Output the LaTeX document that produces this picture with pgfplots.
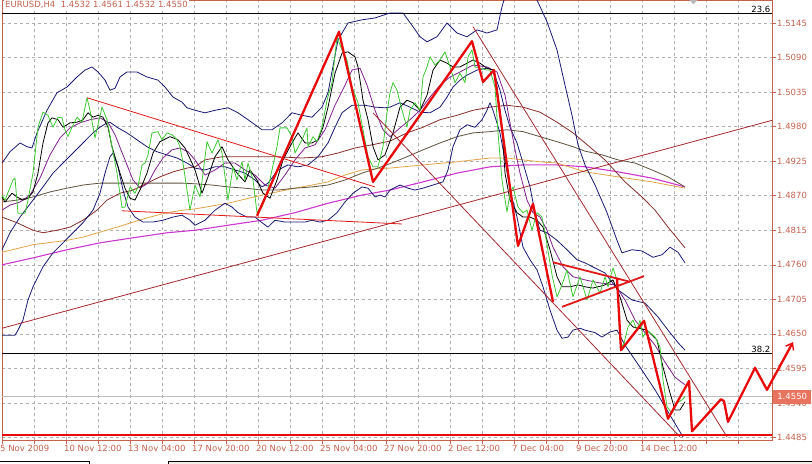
\documentclass[border=0pt]{standalone}
\usepackage{fontspec}
\setmainfont{DejaVu Sans}
\usepackage{pgfplots}
\pgfplotsset{compat=1.18}
\usetikzlibrary{arrows.meta}
\definecolor{axc}{RGB}{196,98,78}
\definecolor{boxc}{RGB}{232,115,95}
\definecolor{gridc}{RGB}{175,175,175}
\definecolor{bidc}{RGB}{190,190,190}
\definecolor{pgreen}{RGB}{60,200,50}
\definecolor{pviolet}{RGB}{128,30,140}
\definecolor{pnavy}{RGB}{25,25,115}
\definecolor{pmaroon}{RGB}{135,45,40}
\definecolor{polive}{RGB}{95,80,60}
\definecolor{porange}{RGB}{222,165,70}
\definecolor{pmagenta}{RGB}{205,55,205}
\definecolor{tred}{RGB}{225,25,25}
\definecolor{cred}{RGB}{165,40,45}
\definecolor{zred}{RGB}{232,10,10}
\newcommand{\lblfont}{\fontsize{8.5bp}{10bp}\selectfont}
\begin{document}
\begin{tikzpicture}[x=1bp,y=1bp]
\useasboundingbox (0,0) rectangle (812,464);
\fill[fill={rgb,255:red,240;green,237;blue,228}] (168,0) rectangle (812,3);
\begin{axis}[
 at={(2bp,24bp)}, anchor=south west, scale only axis,
 width=770bp, height=440bp,
 xmin=2, xmax=772, ymin=1.44811, ymax=1.51816,
 clip=false,
 axis line style={draw=axc, line width=0.8bp},
 xtick pos=bottom, ytick pos=right, yticklabel pos=right,
 tick align=outside, major tick length=4bp, minor tick length=4bp,
 tick style={draw=axc, line width=0.6bp},
 xtick={2,66,130,194,258,322,386,450,514,578,642,706},
 xticklabels={5 Nov 2009,10 Nov 12:00,13 Nov 04:00,17 Nov 20:00,20 Nov 12:00,25 Nov 04:00,27 Nov 20:00,2 Dec 12:00,7 Dec 04:00,9 Dec 20:00,14 Dec 12:00,{}},
 minor xtick={34,98,162,226,290,354,418,482,546,610,674,738},
 ytick={1.4485,1.4540,1.4595,1.4650,1.4705,1.4760,1.4815,1.4870,1.4925,1.4980,1.5035,1.5090,1.5145},
 yticklabels={1.4485,1.4540,1.4595,1.4650,1.4705,1.4760,1.4815,1.4870,1.4925,1.4980,1.5035,1.5090,1.5145},
 grid=both,
 major grid style={draw=gridc, dash pattern=on 3bp off 3bp, line width=0.6bp},
 minor grid style={draw=gridc, dash pattern=on 3bp off 3bp, line width=0.6bp},
 xticklabel style={font=\lblfont, text=axc, anchor=north west, inner sep=0pt, xshift=-2bp, yshift=-1bp},
 yticklabel style={font=\lblfont, text=axc, anchor=west, inner sep=0pt, xshift=1bp},
 scaled y ticks=false,
 every axis plot/.append style={no marks, line join=round, line width=0.8bp},
]
% bid line and fibo levels
\addplot[draw=bidc] coordinates {(2,1.4550)(772,1.4550)};
\addplot[black] coordinates {(2,1.5161)(772,1.5161)};
\addplot[black] coordinates {(2,1.4619)(772,1.4619)};
% magenta MA
\addplot[pmagenta, line width=1.1bp] coordinates {(2,1.4760)(33,1.4771)(67,1.4784)(100,1.4795)(133,1.4803)(167,1.4811)(195,1.4815)(228,1.4823)(262,1.4831)(295,1.4843)(328,1.4858)(362,1.4871)(390,1.4879)(423,1.4892)(457,1.4906)(490,1.4916)(523,1.4919)(557,1.4919)(585,1.4916)(618,1.4908)(652,1.4898)(685,1.4884)};
% orange MA
\addplot[porange] coordinates {(2,1.4780)(33,1.4792)(67,1.4799)(83,1.4804)(100,1.4812)(117,1.4820)(133,1.4828)(150,1.4836)(167,1.4843)(183,1.4847)(195,1.4849)(228,1.4858)(262,1.4871)(295,1.4882)(312,1.4887)(328,1.4892)(345,1.4903)(362,1.4911)(378,1.4913)(390,1.4914)(423,1.4919)(457,1.4924)(490,1.4930)(507,1.4930)(523,1.4927)(540,1.4924)(557,1.4922)(573,1.4914)(585,1.4908)(618,1.4900)(652,1.4892)(685,1.4882)};
% olive MA
\addplot[polive] coordinates {(2,1.4860)(17,1.4863)(33,1.4868)(50,1.4876)(67,1.4882)(83,1.4887)(100,1.4890)(117,1.4890)(133,1.4890)(150,1.4890)(167,1.4890)(183,1.4890)(195,1.4889)(212,1.4887)(228,1.4884)(245,1.4882)(262,1.4879)(278,1.4879)(295,1.4882)(312,1.4884)(328,1.4887)(345,1.4895)(362,1.4906)(378,1.4914)(390,1.4921)(407,1.4932)(423,1.4943)(440,1.4954)(457,1.4964)(473,1.4970)(490,1.4972)(507,1.4975)(523,1.4972)(540,1.4964)(557,1.4956)(573,1.4948)(585,1.4941)(602,1.4935)(618,1.4927)(635,1.4922)(652,1.4911)(668,1.4900)(685,1.4884)};
% maroon MA
\addplot[pmaroon] coordinates {(2,1.4836)(17,1.4827)(33,1.4815)(43,1.4811)(57,1.4815)(70,1.4820)(83,1.4831)(97,1.4847)(107,1.4863)(120,1.4874)(133,1.4879)(147,1.4890)(160,1.4900)(173,1.4908)(187,1.4914)(195,1.4916)(205,1.4927)(222,1.4932)(245,1.4932)(278,1.4932)(302,1.4930)(322,1.4932)(338,1.4938)(355,1.4946)(372,1.4951)(390,1.4957)(407,1.4970)(423,1.4979)(440,1.4991)(457,1.4998)(473,1.5006)(490,1.5011)(507,1.5014)(523,1.5011)(540,1.5003)(557,1.4987)(573,1.4970)(585,1.4954)(605,1.4927)(625,1.4892)(642,1.4868)(655,1.4847)(668,1.4820)(685,1.4787)};
% navy bands
\addplot[pnavy] coordinates {(2,1.4922)(10,1.4940)(20,1.4954)(27,1.4948)(32,1.4946)(37,1.4970)(47,1.5006)(57,1.5034)(67,1.5043)(77,1.5059)(85,1.5070)(92,1.5075)(98,1.5067)(105,1.5054)(110,1.5038)(115,1.5041)(120,1.5059)(127,1.5067)(137,1.5067)(147,1.5059)(158,1.5054)(165,1.5043)(173,1.5027)(182,1.5019)(187,1.5010)(195,1.5006)(205,1.5002)(215,1.5006)(228,1.5010)(238,1.5002)(248,1.4991)(262,1.4975)(272,1.4975)(282,1.4986)(292,1.5002)(302,1.4998)(312,1.4995)(322,1.5011)(328,1.5034)(338,1.5118)(348,1.5145)(362,1.5150)(375,1.5153)(390,1.5161)(403,1.5161)(413,1.5139)(420,1.5123)(427,1.5115)(437,1.5123)(447,1.5145)(457,1.5129)(467,1.5123)(477,1.5134)(487,1.5129)(497,1.5134)(502,1.5171)(504,1.51816)};
\addplot[pnavy] coordinates {(537,1.51816)(547,1.5147)(557,1.5102)(565,1.5046)(572,1.4998)(578,1.4951)(585,1.4919)(595,1.4887)(607,1.4843)(617,1.4799)(622,1.4779)(632,1.4784)(642,1.4782)(653,1.4772)(662,1.4776)(670,1.4788)(678,1.4780)(685,1.4763)};
\addplot[pnavy] coordinates {(2,1.4784)(10,1.4811)(20,1.4836)(33,1.4863)(43,1.4884)(53,1.4906)(63,1.4922)(73,1.4938)(83,1.4954)(93,1.4970)(100,1.4979)(107,1.4986)(110,1.4987)(117,1.4979)(127,1.4970)(137,1.4959)(147,1.4948)(157,1.4940)(167,1.4935)(177,1.4930)(187,1.4922)(195,1.4914)(205,1.4911)(215,1.4916)(225,1.4916)(235,1.4911)(245,1.4906)(255,1.4895)(262,1.4884)(268,1.4890)(278,1.4911)(288,1.4919)(298,1.4916)(308,1.4919)(318,1.4932)(328,1.4954)(335,1.4979)(342,1.5002)(352,1.5014)(365,1.5014)(375,1.5011)(385,1.5010)(390,1.5011)(400,1.5018)(410,1.5011)(420,1.5003)(430,1.5002)(440,1.5011)(447,1.5027)(453,1.5043)(460,1.5054)(467,1.5062)(477,1.5070)(487,1.5073)(493,1.5070)(500,1.5038)(505,1.5006)(510,1.4979)(517,1.4954)(523,1.4922)(530,1.4884)(535,1.4843)(540,1.4815)(547,1.4811)(557,1.4799)(567,1.4784)(577,1.4768)(585,1.4763)(605,1.4747)(618,1.4720)(632,1.4704)(645,1.4699)(658,1.4677)(668,1.4656)(678,1.4636)(685,1.4624)};
\addplot[pnavy] coordinates {(2,1.4648)(15,1.4648)(18,1.4656)(23,1.4672)(28,1.4704)(33,1.4725)(43,1.4757)(53,1.4779)(63,1.4795)(73,1.4811)(83,1.4827)(93,1.4847)(100,1.4874)(105,1.4906)(110,1.4932)(113,1.4938)(118,1.4916)(123,1.4879)(128,1.4852)(135,1.4836)(143,1.4828)(153,1.4828)(163,1.4831)(173,1.4836)(182,1.4839)(190,1.4831)(195,1.4823)(205,1.4831)(215,1.4847)(225,1.4858)(232,1.4852)(238,1.4843)(247,1.4836)(255,1.4836)(262,1.4827)(268,1.4820)(275,1.4831)(285,1.4828)(295,1.4828)(305,1.4828)(312,1.4831)(320,1.4828)(328,1.4831)(337,1.4843)(345,1.4860)(353,1.4874)(362,1.4884)(368,1.4882)(375,1.4868)(380,1.4871)(385,1.4868)(390,1.4879)(400,1.4887)(408,1.4882)(415,1.4879)(423,1.4882)(433,1.4887)(443,1.4892)(448,1.4911)(453,1.4948)(460,1.4975)(467,1.4983)(475,1.4979)(482,1.4991)(487,1.5006)(490,1.5018)(493,1.5006)(500,1.4970)(505,1.4927)(510,1.4879)(517,1.4836)(523,1.4788)(530,1.4768)(537,1.4752)(543,1.4725)(550,1.4688)(557,1.4656)(562,1.4643)(568,1.4645)(573,1.4656)(580,1.4659)(585,1.4656)(595,1.4652)(602,1.4645)(610,1.4653)(617,1.4656)(625,1.4632)(640,1.4597)(655,1.4561)(668,1.4526)(680,1.4494)(683,1.4486)};
% violet MA
\addplot[pviolet] coordinates {(2,1.4847)(10,1.4855)(20,1.4860)(30,1.4871)(40,1.4898)(50,1.4935)(60,1.4962)(70,1.4978)(80,1.4986)(90,1.4991)(100,1.4994)(108,1.4987)(115,1.4967)(125,1.4927)(133,1.4895)(140,1.4882)(148,1.4890)(155,1.4911)(163,1.4930)(172,1.4943)(180,1.4946)(188,1.4940)(195,1.4927)(205,1.4903)(215,1.4911)(225,1.4922)(235,1.4922)(245,1.4911)(255,1.4903)(265,1.4887)(275,1.4882)(285,1.4903)(295,1.4927)(305,1.4946)(315,1.4951)(325,1.4975)(335,1.5014)(345,1.5046)(352,1.5070)(360,1.5073)(367,1.5046)(375,1.5006)(383,1.4975)(390,1.4964)(400,1.4978)(410,1.4991)(420,1.5006)(430,1.5027)(440,1.5046)(450,1.5059)(460,1.5067)(473,1.5078)(487,1.5075)(497,1.5067)(505,1.5030)(510,1.4986)(515,1.4943)(520,1.4906)(527,1.4863)(533,1.4843)(540,1.4836)(547,1.4815)(553,1.4788)(563,1.4757)(573,1.4741)(585,1.4736)(600,1.4731)(615,1.4728)(625,1.4704)(635,1.4672)(645,1.4652)(655,1.4632)(665,1.4605)(675,1.4581)(685,1.4569)};
% black fast MA
\addplot[black] coordinates {(2,1.4868)(5,1.4860)(12,1.4874)(17,1.4868)(23,1.4863)(28,1.4866)(33,1.4876)(38,1.4906)(43,1.4954)(48,1.4986)(52,1.4994)(58,1.4991)(63,1.4979)(70,1.4986)(77,1.4987)(83,1.4991)(88,1.5002)(93,1.4995)(98,1.4998)(103,1.4995)(108,1.4979)(112,1.4948)(115,1.4932)(120,1.4906)(125,1.4882)(130,1.4866)(135,1.4863)(140,1.4879)(147,1.4906)(153,1.4938)(160,1.4956)(170,1.4964)(178,1.4959)(185,1.4946)(192,1.4922)(195,1.4911)(202,1.4874)(208,1.4900)(215,1.4932)(222,1.4948)(228,1.4927)(237,1.4906)(245,1.4892)(250,1.4911)(257,1.4895)(263,1.4874)(270,1.4866)(277,1.4895)(283,1.4927)(292,1.4954)(298,1.4970)(305,1.4954)(312,1.4954)(318,1.4959)(323,1.4979)(328,1.5011)(335,1.5065)(342,1.5097)(348,1.5099)(355,1.5091)(358,1.5075)(363,1.5022)(368,1.4991)(373,1.4948)(378,1.4927)(385,1.4935)(393,1.4970)(400,1.5011)(407,1.5022)(413,1.5018)(420,1.5006)(427,1.5030)(433,1.5070)(440,1.5086)(447,1.5081)(453,1.5075)(460,1.5075)(467,1.5081)(473,1.5086)(480,1.5081)(487,1.5073)(493,1.5070)(497,1.5043)(502,1.4979)(505,1.4906)(510,1.4863)(517,1.4843)(523,1.4836)(530,1.4836)(537,1.4831)(543,1.4820)(550,1.4784)(557,1.4741)(562,1.4725)(570,1.4725)(578,1.4728)(585,1.4725)(593,1.4723)(605,1.4728)(613,1.4736)(620,1.4709)(627,1.4672)(633,1.4661)(647,1.4656)(657,1.4640)(663,1.4597)(670,1.4556)(675,1.4529)(680,1.4529)(685,1.4542)};
% green close line
\addplot[pgreen] coordinates {(2,1.4871)(5,1.4863)(13,1.4895)(15,1.4898)(18,1.4842)(25,1.4842)(28,1.4863)(33,1.4906)(38,1.4979)(43,1.5003)(48,1.4998)(53,1.4979)(58,1.4995)(62,1.4994)(65,1.4975)(68,1.4964)(72,1.4979)(77,1.4995)(82,1.4987)(87,1.5026)(90,1.5006)(95,1.4962)(102,1.5011)(107,1.4991)(112,1.4948)(117,1.4906)(122,1.4851)(125,1.4852)(130,1.4884)(135,1.4874)(138,1.4884)(142,1.4919)(145,1.4922)(148,1.4935)(152,1.4970)(158,1.4972)(162,1.4959)(167,1.4970)(172,1.4967)(177,1.4959)(180,1.4948)(183,1.4922)(187,1.4879)(190,1.4847)(195,1.4887)(200,1.4868)(207,1.4956)(212,1.4938)(218,1.4959)(222,1.4938)(228,1.4863)(233,1.4916)(237,1.4895)(242,1.4924)(245,1.4895)(248,1.4922)(253,1.4895)(257,1.4843)(262,1.4852)(267,1.4874)(272,1.4911)(277,1.4948)(280,1.4978)(287,1.4978)(292,1.4964)(295,1.4938)(302,1.4959)(307,1.4978)(308,1.4948)(313,1.4964)(317,1.4956)(322,1.4979)(327,1.5022)(332,1.5050)(337,1.5123)(342,1.5102)(347,1.5086)(352,1.5043)(358,1.5018)(363,1.4975)(368,1.4932)(373,1.4916)(378,1.4916)(383,1.4948)(387,1.5002)(390,1.5034)(393,1.5050)(397,1.5038)(402,1.5006)(407,1.4979)(410,1.5006)(415,1.5018)(420,1.5006)(423,1.5059)(427,1.5075)(430,1.5091)(435,1.5078)(440,1.5086)(445,1.5099)(450,1.5075)(455,1.5050)(460,1.5065)(465,1.5050)(468,1.5091)(472,1.5102)(475,1.5075)(480,1.5073)(487,1.5070)(490,1.5070)(495,1.5043)(498,1.4970)(502,1.4895)(507,1.4844)(510,1.4874)(513,1.4884)(518,1.4852)(523,1.4843)(527,1.4847)(532,1.4815)(537,1.4843)(542,1.4836)(545,1.4811)(552,1.4744)(557,1.4709)(562,1.4728)(567,1.4752)(573,1.4709)(580,1.4741)(587,1.4704)(593,1.4736)(600,1.4715)(605,1.4741)(608,1.4725)(613,1.4755)(617,1.4736)(620,1.4640)(623,1.4629)(628,1.4661)(633,1.4672)(637,1.4656)(640,1.4672)(643,1.4645)(647,1.4656)(650,1.4652)(655,1.4645)(660,1.4629)(663,1.4577)(667,1.4534)(672,1.4524)(677,1.4540)(682,1.4545)(685,1.4550)};
% channel lines
\addplot[cred] coordinates {(2,1.4659)(772,1.4990)};
\addplot[cred] coordinates {(373,1.5002)(680,1.4486)};
\addplot[cred] coordinates {(473,1.5139)(727,1.4486)};
% triangle trend lines
\addplot[tred] coordinates {(87,1.5026)(375,1.4884)};
\addplot[tred] coordinates {(122,1.4846)(402,1.4825)};
\addplot[tred, line width=1.8bp] coordinates {(553,1.4764)(630,1.4733)};
\addplot[tred, line width=1.8bp] coordinates {(562,1.4693)(644,1.4742)};
% zigzag
\addplot[zred, line width=2.3bp] coordinates {(257,1.4838)(339,1.5131)(373,1.4892)(472,1.5116)(483,1.5051)(494,1.5070)(518,1.4790)(533,1.4857)(553,1.4701)};
\addplot[zred, line width=2.3bp, -{Straight Barb[length=6bp,width=9bp,line width=1.4bp]}] coordinates {(617,1.4739)(621,1.4624)(644,1.4671)(668,1.4515)(689,1.4575)(692,1.4495)(721,1.4546)(724,1.4543)(728,1.4510)(755,1.4596)(767,1.4561)(793,1.4637)};
% support line
\addplot[zred, line width=2.6bp] coordinates {(2,1.4489)(772,1.4489)};
% labels
\node[anchor=south east, inner sep=0.5bp, font=\lblfont] at (axis cs:771,1.5161) {23.6};
\node[anchor=south east, inner sep=0.5bp, font=\lblfont] at (axis cs:771,1.4619) {38.2};
\node[anchor=west, fill=boxc, text=white, inner sep=0pt, minimum width=38bp, minimum height=14bp, font=\lblfont] at (axis cs:773,1.4550) {1.4550};
\node[anchor=north west, fill=white, inner sep=1bp, text=axc, font=\lblfont] at (axis cs:4,1.51816) {EURUSD,H4\ \ 1.4532 1.4561 1.4532 1.4550};
\end{axis}
\fill[gray!55] (689.5,464) -- (697.5,464) -- (693.5,459.5) -- cycle;
\draw[black, line width=0.8bp] (0,3) -- (89,3) -- (89,0);
\draw[black, line width=0.8bp] (168,0) -- (168,3) -- (812,3);
\end{tikzpicture}
\end{document}
